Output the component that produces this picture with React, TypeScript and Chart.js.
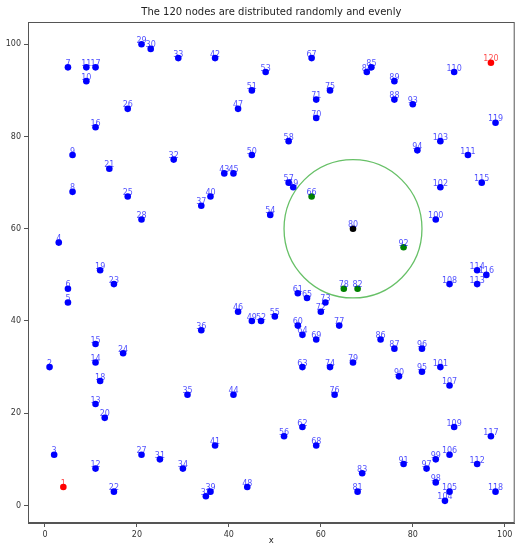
import React, { useEffect, useRef } from "react";
import { Chart, registerables } from "chart.js";

Chart.register(...registerables);

const xs = [4, 1, 2, 3, 5, 5, 5, 6, 6, 9, 9, 11, 11, 11, 11, 11, 11, 12, 12, 13, 14, 15, 15, 17, 18, 18, 21, 21, 21, 23, 25, 28, 29, 30, 31, 34, 34, 35, 36, 36, 37, 37, 39, 41, 41, 42, 42, 44, 45, 45, 45, 47, 48, 49, 50, 52, 53, 53, 54, 55, 55, 56, 56, 56, 57, 58, 58, 59, 59, 59, 59, 60, 61, 62, 62, 63, 64, 65, 67, 67, 68, 68, 69, 70, 71, 73, 76, 76, 76, 77, 78, 78, 80, 81, 82, 82, 83, 85, 85, 85, 86, 86, 86, 87, 88, 88, 88, 88, 89, 89, 92, 94, 94, 94, 95, 96, 97, 98, 98, 97];
const ys = [4, 30, 11, 57, 44, 47, 95, 68, 76, 92, 95, 8, 22, 31, 35, 82, 95, 27, 51, 19, 73, 3, 48, 33, 67, 86, 11, 62, 100, 99, 10, 75, 97, 8, 24, 38, 65, 2, 3, 67, 13, 97, 72, 24, 72, 42, 86, 4, 40, 76, 90, 40, 94, 63, 41, 15, 70, 79, 69, 39, 46, 17, 30, 37, 45, 67, 97, 13, 36, 84, 88, 42, 44, 30, 90, 24, 39, 47, 31, 60, 3, 47, 7, 94, 95, 36, 34, 88, 92, 28, 9, 56, 87, 77, 29, 34, 8, 5, 10, 62, 30, 69, 79, 1, 3, 11, 26, 48, 17, 94, 76, 9, 48, 51, 70, 50, 15, 3, 83, 96];
const nodeIds = xs.map((_, i) => i + 1);
const endpointIds = [1, 120];
const neighbourIds = [66, 78, 82, 92];
const centreId = 80;
const rangeRadius = 15;
const tickValues = [0, 20, 40, 60, 80, 100];
const titleText = "The 120 nodes are distributed randomly and evenly";
const xTitle = "x";

const FONT = "'DejaVu Sans', sans-serif";

function pointColor(id: number) {
  if (endpointIds.includes(id)) return "#ff0000";
  if (neighbourIds.includes(id)) return "#008000";
  if (id === centreId) return "#000000";
  return "#0000ff";
}
function labelColor(id: number) {
  if (endpointIds.includes(id)) return "rgba(255,0,0,0.7)";
  return "rgba(0,0,255,0.7)";
}

export default function App() {
  const ref = useRef<HTMLCanvasElement | null>(null);
  useEffect(() => {
    document.body.style.margin = "0";
    const ctx = ref.current!.getContext("2d")!;
    const overlay = {
      id: "overlay",
      beforeDatasetsDraw(chart: any) {
        const c = chart.ctx;
        const xS = chart.scales.x;
        const yS = chart.scales.y;
        const ci = centreId - 1;
        const cx = xS.getPixelForValue(xs[ci]);
        const cy = yS.getPixelForValue(ys[ci]);
        const rx = Math.abs(xS.getPixelForValue(xs[ci] + rangeRadius) - cx);
        const ry = Math.abs(yS.getPixelForValue(ys[ci] + rangeRadius) - cy);
        c.save();
        c.strokeStyle = "rgba(0,150,0,0.6)";
        c.lineWidth = 1.3;
        c.beginPath();
        c.ellipse(cx, cy, rx, ry, 0, 0, Math.PI * 2);
        c.stroke();
        c.restore();
      },
      afterDatasetsDraw(chart: any) {
        const c = chart.ctx;
        const meta = chart.getDatasetMeta(0);
        c.save();
        c.font = `8px ${FONT}`;
        c.textAlign = "center";
        c.textBaseline = "bottom";
        meta.data.forEach((pt: any, i: number) => {
          c.fillStyle = labelColor(nodeIds[i]);
          c.fillText(String(nodeIds[i]), pt.x, pt.y + 0.5);
        });
        c.restore();
      },
      afterDraw(chart: any) {
        const c = chart.ctx;
        const a = chart.chartArea;
        c.save();
        c.strokeStyle = "#555";
        c.lineWidth = 1;
        c.strokeRect(a.left + 0.5, a.top + 0.5, a.right - a.left - 1, a.bottom - a.top - 1);
        c.fillStyle = "#222";
        c.textAlign = "center";
        c.textBaseline = "middle";
        c.font = `10px ${FONT}`;
        c.fillText(titleText, (a.left + a.right) / 2, 12);
        c.font = `8.5px ${FONT}`;
        c.fillText(xTitle, (a.left + a.right) / 2, 541);
        c.restore();
      },
    };
    const chart = new Chart(ctx, {
      type: "scatter",
      data: {
        datasets: [
          {
            data: xs.map((x, i) => ({ x, y: ys[i] })),
            pointRadius: 3.3,
            pointHoverRadius: 3.3,
            pointBorderWidth: 0,
            pointBackgroundColor: nodeIds.map(pointColor),
            pointBorderColor: nodeIds.map(pointColor),
          },
        ],
      },
      options: {
        animation: false,
        responsive: false,
        maintainAspectRatio: false,
        layout: { padding: { top: 22, right: 2, left: 0, bottom: 0 } },
        plugins: { legend: { display: false }, tooltip: { enabled: false }, title: { display: false } },
        scales: {
          x: {
            type: "linear",
            min: -3.69,
            max: 102.17,
            afterBuildTicks: (s: any) => {
              s.ticks = tickValues.map((v) => ({ value: v }));
            },
            afterFit: (s: any) => {
              s.height = 25;
            },
            grid: { display: true, drawOnChartArea: false, drawTicks: true, tickLength: 4, color: "#555" },
            border: { display: true, color: "#555" },
            ticks: { color: "#333", font: { family: FONT, size: 8 }, padding: 3, maxRotation: 0 },
          },
          y: {
            type: "linear",
            min: -3.8,
            max: 104.83,
            afterBuildTicks: (s: any) => {
              s.ticks = tickValues.map((v) => ({ value: v }));
            },
            afterFit: (s: any) => {
              s.width = 28;
            },
            grid: { display: true, drawOnChartArea: false, drawTicks: true, tickLength: 4, color: "#555" },
            border: { display: true, color: "#555" },
            ticks: { color: "#333", font: { family: FONT, size: 8 }, padding: 3 },
          },
        },
      },
      plugins: [overlay],
    } as any);
    return () => chart.destroy();
  }, []);
  return (
    <div style={{ position: "fixed", left: 0, top: 0, width: 518, height: 548, background: "#fff" }}>
      <canvas ref={ref} width={518} height={548} style={{ width: 518, height: 548, display: "block" }} />
    </div>
  );
}
